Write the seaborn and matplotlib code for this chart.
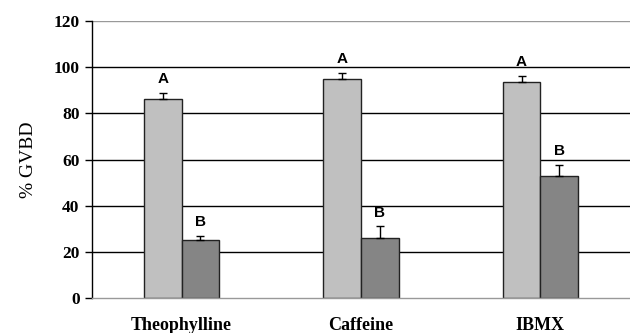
import matplotlib
matplotlib.use("Agg")
import matplotlib.pyplot as plt
import seaborn as sns
import pandas as pd
import numpy as np

categories = ["Theophylline", "Caffeine", "IBMX"]
groups = ["Control", "Treated"]
values_a = [86, 95, 93.5]
values_b = [25, 26, 53]
err_a = [3, 2.5, 2.5]
err_b = [2, 5, 4.5]
letters_a = ["A", "A", "A"]
letters_b = ["B", "B", "B"]
yticks = [0, 20, 40, 60, 80, 100, 120]

df = pd.DataFrame({
    "cat": categories * 2,
    "grp": [groups[0]] * 3 + [groups[1]] * 3,
    "val": values_a + values_b,
})

sns.set_style("white")
plt.rcParams["font.family"] = ["Liberation Serif", "DejaVu Serif"]
plt.rcParams["text.color"] = "black"
plt.rcParams["xtick.color"] = "black"
plt.rcParams["ytick.color"] = "black"
plt.rcParams["axes.labelcolor"] = "black"

fig = plt.figure(figsize=(6.3, 3.33), dpi=100)
ax = fig.add_axes([92 / 630, 1 - 298 / 333, 538 / 630, (298 - 21) / 333])

for y in yticks[1:-1]:
    ax.axhline(y, color="black", lw=1.0, zorder=0)
ax.axhline(120, color="#999999", lw=1.0, zorder=0)

sns.barplot(data=df, x="cat", y="val", hue="grp", order=categories,
            hue_order=groups, palette=["#c0c0c0", "#858585"],
            width=0.42, edgecolor="#222222", linewidth=1.0, ax=ax,
            legend=False, errorbar=None, zorder=2)

bars = [p for p in ax.patches if p.get_height() > 0]
errs = err_a + err_b
letters = letters_a + letters_b
vals = values_a + values_b
for p, e, lab, v in zip(bars, errs, letters, vals):
    cx = p.get_x() + p.get_width() / 2
    ax.errorbar(cx, v, yerr=[[0], [e]], color="black", capsize=3,
                lw=1.0, capthick=1.0, zorder=3)
    ax.text(cx, v + e + 3, lab, ha="center", va="bottom",
            fontsize=11, fontweight="bold", family="Liberation Sans")

ax.set_ylim(0, 120)
ax.set_xlim(-0.5, 2.5)
ax.set_yticks(yticks)
ax.set_yticklabels([str(t) for t in yticks], fontsize=12.5, fontweight="bold")
ax.set_xticklabels(categories, fontsize=13, fontweight="bold")
ax.set_xlabel("")
ax.set_ylabel("% GVBD", fontsize=14, labelpad=12)
ax.tick_params(axis="y", length=5, width=1, direction="out", left=True, pad=4)
ax.tick_params(axis="x", length=0, pad=14)

for s in ["top", "right"]:
    ax.spines[s].set_visible(False)
ax.spines["left"].set_color("black")
ax.spines["left"].set_linewidth(1.0)
ax.spines["bottom"].set_color("#999999")
ax.spines["bottom"].set_linewidth(1.0)

fig.savefig("out.png", dpi=100)
